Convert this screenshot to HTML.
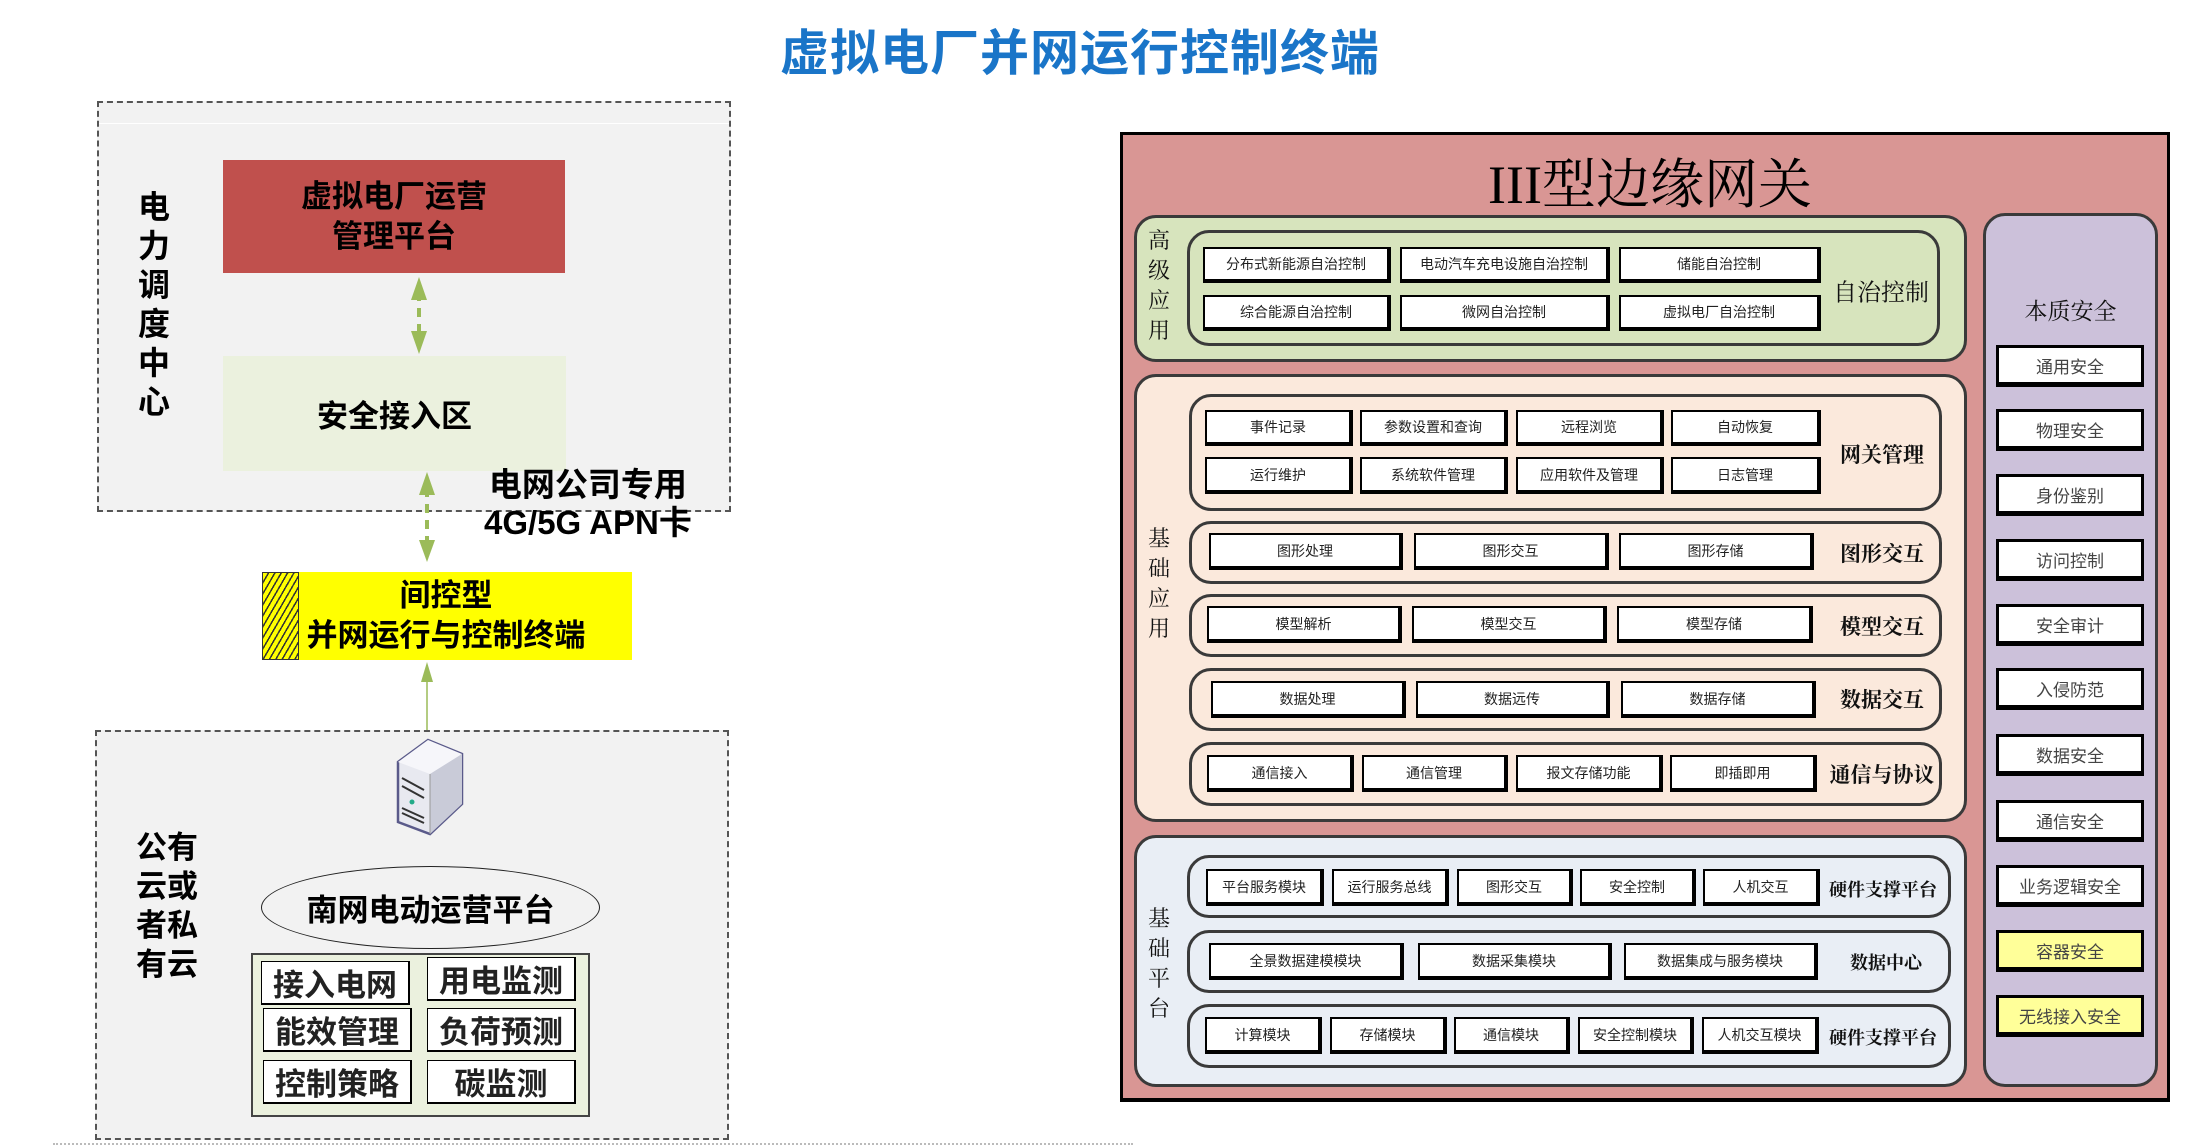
<!DOCTYPE html>
<html><head><meta charset="utf-8"><style>
body{margin:0;width:2187px;height:1145px;background:#fff;position:relative;overflow:hidden;font-family:"Liberation Sans","Noto Sans CJK SC",sans-serif}
.a{position:absolute;box-sizing:border-box}
.f{display:flex;align-items:center;justify-content:center;text-align:center}
.c{position:absolute;box-sizing:border-box;background:#fff;border:2px solid #000;border-bottom-width:4px;border-right-width:4px;display:flex;align-items:center;justify-content:center;font-size:14px;color:#222;white-space:nowrap}
.r{position:absolute;box-sizing:border-box;border:3px solid #3a3a3a;border-radius:22px}
.l{position:absolute;font-family:"Liberation Serif","Noto Serif CJK SC",serif;font-weight:bold;font-size:21px;color:#111;white-space:nowrap;transform:translate(-50%,-50%)}
.v{position:absolute;font-family:"Liberation Serif","Noto Serif CJK SC",serif;font-size:22px;line-height:30px;width:30px;text-align:center;color:#111}
.s{position:absolute;box-sizing:border-box;background:#fff;border:3px solid #000;border-bottom-width:5px;display:flex;align-items:center;justify-content:center;font-size:17px;color:#444;left:2003px;width:148px;height:42px}
</style></head><body>

<div class="a" style="left:0;top:14px;width:2160px;text-align:center;font-size:49px;font-weight:bold;color:#1a75c8;letter-spacing:1px">虚拟电厂并网运行控制终端</div>

<!-- left upper -->
<div class="a" style="left:97px;top:101px;width:634px;height:411px;background:#f2f2f2;border:2px dashed #555"></div>
<div class="a" style="left:99px;top:123px;width:630px;height:1px;background:#fff"></div>
<div class="a" style="left:134px;top:188px;width:40px;font-size:32px;font-weight:bold;line-height:39px;text-align:center">电<br>力<br>调<br>度<br>中<br>心</div>
<div class="a f" style="left:223px;top:160px;width:342px;height:113px;background:#c0504d;font-size:31px;font-weight:bold;line-height:40px">虚拟电厂运营<br>管理平台</div>
<div class="a f" style="left:223px;top:356px;width:343px;height:115px;background:#ebf1de;font-size:31px;font-weight:bold">安全接入区</div>
<div class="a" style="left:484px;top:466px;font-size:33px;font-weight:bold;line-height:38px;text-align:center">电网公司专用<br>4G/5G APN卡</div>
<div class="a" style="left:262px;top:572px;width:370px;height:88px;background:#ffff00"></div>
<div class="a" style="left:262px;top:572px;width:37px;height:88px;border:1px solid #333;background:repeating-linear-gradient(120deg,#ffff00 0 4px,#333 4px 5.5px)"></div>
<div class="a f" style="left:296px;top:572px;width:300px;height:88px;font-size:31px;font-weight:bold;line-height:40px">间控型<br>并网运行与控制终端</div>

<svg class="a" style="left:0;top:0" width="1100" height="1145">
<g stroke="#9bbb59" stroke-width="4" stroke-dasharray="9,7" fill="#9bbb59">
<line x1="419" y1="292" x2="419" y2="340"/>
<line x1="427" y1="488" x2="427" y2="548"/>
</g>
<g fill="#9bbb59">
<polygon points="419,277 411,300 427,300"/><polygon points="419,354 411,331 427,331"/>
<polygon points="427,472 419,495 435,495"/><polygon points="427,562 419,540 435,540"/>
<polygon points="427,662 421,682 433,682"/>
</g>
<line x1="427" y1="680" x2="427" y2="740" stroke="#9bbb59" stroke-width="1.5"/>
</svg>

<!-- left lower -->
<div class="a" style="left:95px;top:730px;width:634px;height:410px;background:#f2f2f2;border:2px dashed #555"></div>
<svg class="a" style="left:394px;top:738px" width="72" height="98">
<polygon points="4,24 34,2 68,16 68,66 36,96 4,84" fill="#e8e9f0" stroke="#5a5a8a" stroke-width="2.5"/>
<polygon points="4,24 34,2 68,16 36,36" fill="#f6f6fa"/>
<polygon points="36,36 68,16 68,66 36,96" fill="#c9cbd8"/>
<line x1="36" y1="36" x2="36" y2="96" stroke="#999" stroke-width="1"/>
<g stroke="#333" stroke-width="2"><line x1="8" y1="40" x2="30" y2="52"/><line x1="8" y1="48" x2="30" y2="60"/><line x1="8" y1="70" x2="30" y2="80"/><line x1="8" y1="75" x2="30" y2="85"/></g>
<circle cx="18" cy="64" r="2.5" fill="#2a8"/>
</svg>
<div class="a" style="left:136px;top:828px;width:72px;font-size:31px;font-weight:bold;line-height:39px">公有<br>云或<br>者私<br>有云</div>
<div class="a f" style="left:261px;top:866px;width:339px;height:83px;border:1.5px solid #222;border-radius:50%;font-size:31px;font-weight:bold">南网电动运营平台</div>
<div class="a" style="left:251px;top:953px;width:339px;height:164px;background:#ebf1de;border:2px solid #444"></div>
<div class="c" style="left:261px;top:961px;width:149px;height:44px;font-size:31px;font-weight:bold;border-width:1.5px 2px 2px 1.5px">接入电网</div>
<div class="c" style="left:427px;top:957px;width:149px;height:44px;font-size:31px;font-weight:bold;border-width:1.5px 2px 2px 1.5px">用电监测</div>
<div class="c" style="left:263px;top:1008px;width:149px;height:44px;font-size:31px;font-weight:bold;border-width:1.5px 2px 2px 1.5px">能效管理</div>
<div class="c" style="left:427px;top:1008px;width:149px;height:44px;font-size:31px;font-weight:bold;border-width:1.5px 2px 2px 1.5px">负荷预测</div>
<div class="c" style="left:263px;top:1060px;width:149px;height:44px;font-size:31px;font-weight:bold;border-width:1.5px 2px 2px 1.5px">控制策略</div>
<div class="c" style="left:427px;top:1060px;width:149px;height:44px;font-size:31px;font-weight:bold;border-width:1.5px 2px 2px 1.5px">碳监测</div>
<div class="a" style="left:53px;top:1143px;width:1080px;border-top:2px dotted #bbb"></div>

<!-- right -->
<div class="a" style="left:0;top:0;width:2187px;height:1145px;transform:translate(-7px,-2px)">
<div class="a" style="left:1127px;top:134px;width:1050px;height:970px;background:#d99694;border:3px solid #000;border-bottom-width:4px"></div>
<div class="a" style="left:1127px;top:144px;width:1060px;text-align:center;font-family:'Liberation Serif','Noto Serif CJK SC',serif;font-size:54px;color:#000">III型边缘网关</div>

<div class="r" style="left:1141px;top:217px;width:833px;height:147px;background:#d7e4bd"></div>
<div class="v" style="left:1151px;top:228px">高<br>级<br>应<br>用</div>
<div class="r" style="left:1194px;top:232px;width:753px;height:116px"></div>
<div class="c" style="left:1210px;top:249px;width:188px;height:36px">分布式新能源自治控制</div>
<div class="c" style="left:1407px;top:249px;width:210px;height:36px">电动汽车充电设施自治控制</div>
<div class="c" style="left:1626px;top:249px;width:202px;height:36px">储能自治控制</div>
<div class="c" style="left:1210px;top:297px;width:188px;height:36px">综合能源自治控制</div>
<div class="c" style="left:1407px;top:297px;width:210px;height:36px">微网自治控制</div>
<div class="c" style="left:1626px;top:297px;width:202px;height:36px">虚拟电厂自治控制</div>
<div class="l" style="left:1888px;top:292px;font-weight:normal;font-size:24px">自治控制</div>

<div class="r" style="left:1141px;top:376px;width:833px;height:448px;background:#fbe9dc"></div>
<div class="v" style="left:1151px;top:526px">基<br>础<br>应<br>用</div>
<div class="r" style="left:1196px;top:396px;width:753px;height:117px"></div>
<div class="c" style="left:1212px;top:412px;width:148px;height:36px">事件记录</div>
<div class="c" style="left:1367px;top:412px;width:148px;height:36px">参数设置和查询</div>
<div class="c" style="left:1523px;top:412px;width:148px;height:36px">远程浏览</div>
<div class="c" style="left:1678px;top:412px;width:150px;height:36px">自动恢复</div>
<div class="c" style="left:1212px;top:459px;width:148px;height:37px">运行维护</div>
<div class="c" style="left:1367px;top:459px;width:148px;height:37px">系统软件管理</div>
<div class="c" style="left:1523px;top:459px;width:148px;height:37px">应用软件及管理</div>
<div class="c" style="left:1678px;top:459px;width:150px;height:37px">日志管理</div>
<div class="l" style="left:1889px;top:456px">网关管理</div>

<div class="r" style="left:1196px;top:523px;width:753px;height:63px"></div>
<div class="c" style="left:1216px;top:535px;width:194px;height:37px">图形处理</div>
<div class="c" style="left:1421px;top:535px;width:195px;height:37px">图形交互</div>
<div class="c" style="left:1626px;top:535px;width:195px;height:37px">图形存储</div>
<div class="l" style="left:1889px;top:555px">图形交互</div>

<div class="r" style="left:1196px;top:596px;width:753px;height:63px"></div>
<div class="c" style="left:1214px;top:608px;width:195px;height:37px">模型解析</div>
<div class="c" style="left:1419px;top:608px;width:195px;height:37px">模型交互</div>
<div class="c" style="left:1624px;top:608px;width:196px;height:37px">模型存储</div>
<div class="l" style="left:1889px;top:628px">模型交互</div>

<div class="r" style="left:1196px;top:670px;width:753px;height:63px"></div>
<div class="c" style="left:1218px;top:683px;width:195px;height:37px">数据处理</div>
<div class="c" style="left:1423px;top:683px;width:194px;height:37px">数据远传</div>
<div class="c" style="left:1628px;top:683px;width:195px;height:37px">数据存储</div>
<div class="l" style="left:1889px;top:701px">数据交互</div>

<div class="r" style="left:1196px;top:744px;width:753px;height:64px"></div>
<div class="c" style="left:1214px;top:757px;width:147px;height:37px">通信接入</div>
<div class="c" style="left:1369px;top:757px;width:146px;height:37px">通信管理</div>
<div class="c" style="left:1523px;top:757px;width:147px;height:37px">报文存储功能</div>
<div class="c" style="left:1677px;top:757px;width:147px;height:37px">即插即用</div>
<div class="l" style="left:1889px;top:776px">通信与协议</div>

<div class="r" style="left:1141px;top:837px;width:833px;height:252px;background:#e9eef5"></div>
<div class="v" style="left:1151px;top:906px">基<br>础<br>平<br>台</div>
<div class="r" style="left:1194px;top:857px;width:764px;height:63px"></div>
<div class="c" style="left:1213px;top:871px;width:118px;height:37px">平台服务模块</div>
<div class="c" style="left:1339px;top:871px;width:117px;height:37px">运行服务总线</div>
<div class="c" style="left:1464px;top:871px;width:116px;height:37px">图形交互</div>
<div class="c" style="left:1587px;top:871px;width:116px;height:37px">安全控制</div>
<div class="c" style="left:1710px;top:871px;width:117px;height:37px">人机交互</div>
<div class="l" style="left:1890px;top:891px;font-size:18px">硬件支撑平台</div>

<div class="r" style="left:1194px;top:932px;width:764px;height:63px"></div>
<div class="c" style="left:1216px;top:945px;width:195px;height:37px">全景数据建模模块</div>
<div class="c" style="left:1425px;top:945px;width:194px;height:37px">数据采集模块</div>
<div class="c" style="left:1631px;top:945px;width:194px;height:37px">数据集成与服务模块</div>
<div class="l" style="left:1893px;top:964px;font-size:18px">数据中心</div>

<div class="r" style="left:1194px;top:1006px;width:764px;height:64px"></div>
<div class="c" style="left:1212px;top:1019px;width:117px;height:37px">计算模块</div>
<div class="c" style="left:1337px;top:1019px;width:117px;height:37px">存储模块</div>
<div class="c" style="left:1461px;top:1019px;width:116px;height:37px">通信模块</div>
<div class="c" style="left:1585px;top:1019px;width:116px;height:37px">安全控制模块</div>
<div class="c" style="left:1709px;top:1019px;width:117px;height:37px">人机交互模块</div>
<div class="l" style="left:1890px;top:1039px;font-size:18px">硬件支撑平台</div>

<div class="r" style="left:1990px;top:215px;width:175px;height:874px;background:#ccc1da"></div>
<div class="a" style="left:1990px;top:295px;width:175px;text-align:center;font-family:'Liberation Serif','Noto Serif CJK SC',serif;font-size:23px;color:#111">本质安全</div>
<div class="s" style="top:347px">通用安全</div>
<div class="s" style="top:411px">物理安全</div>
<div class="s" style="top:476px">身份鉴别</div>
<div class="s" style="top:541px">访问控制</div>
<div class="s" style="top:606px">安全审计</div>
<div class="s" style="top:670px">入侵防范</div>
<div class="s" style="top:736px">数据安全</div>
<div class="s" style="top:802px">通信安全</div>
<div class="s" style="top:867px">业务逻辑安全</div>
<div class="s" style="top:932px;background:#ffff99">容器安全</div>
<div class="s" style="top:997px;background:#ffff99">无线接入安全</div>
</div>
</body></html>
